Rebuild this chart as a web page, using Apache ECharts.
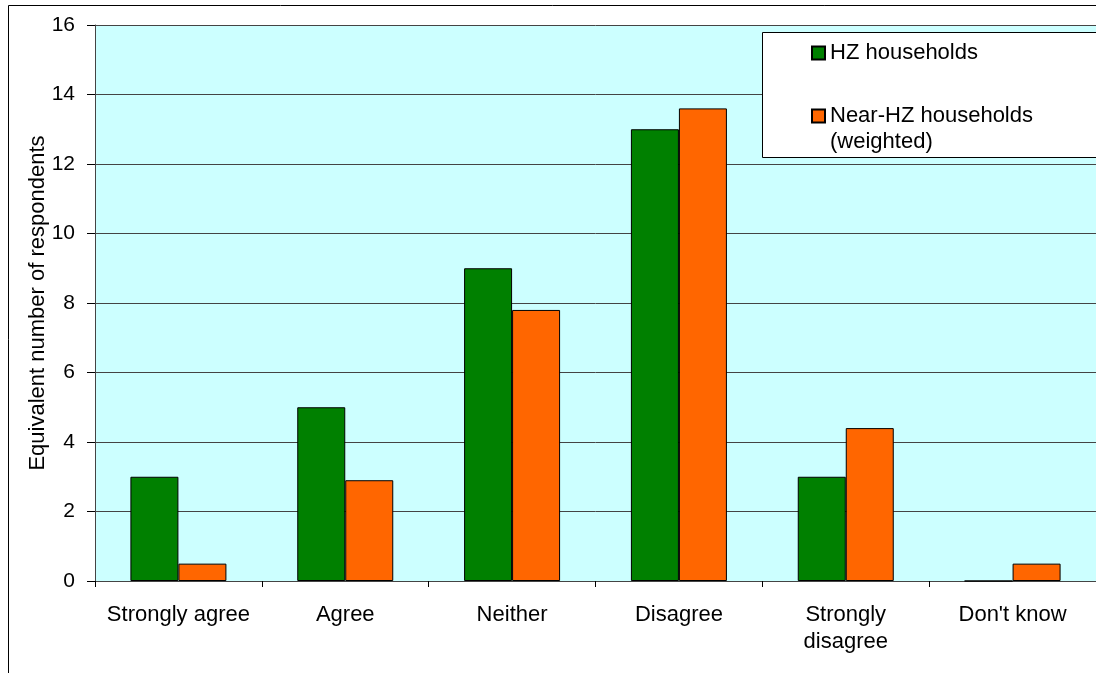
<!DOCTYPE html>
<html><head><meta charset="utf-8">
<script src="https://cdn.jsdelivr.net/npm/echarts@6/dist/echarts.min.js"></script>
<style>html,body{margin:0;padding:0;background:#fff}#c{width:1096px;height:673px}</style>
</head><body><div id="c"></div>
<script>
var categories = ["Strongly agree", "Agree", "Neither", "Disagree", "Strongly\ndisagree", "Don't know"];
var hzValues = [3, 5, 9, 13, 3, 0];
var nearHzValues = [0.5, 2.9, 7.8, 13.6, 4.4, 0.5];
var seriesNames = ["HZ households", "Near-HZ households\n(weighted)"];
var yTitle = "Equivalent number of respondents";

var chart = echarts.init(document.getElementById('c'), null, {renderer: 'canvas'});
var font = "'Liberation Sans', Arial, sans-serif";
chart.setOption({
  animation: false,
  textStyle: {fontFamily: font},
  graphic: [
    {type: 'rect', z: -10, shape: {x: 8.5, y: 5.5, width: 1200, height: 800}, style: {fill: '#fff', stroke: '#000', lineWidth: 1}},
    {type: 'rect', z: 50, shape: {x: 762.5, y: 32.5, width: 400, height: 125}, style: {fill: '#fff', stroke: '#000', lineWidth: 1}}
  ],
  legend: {
    orient: 'vertical', left: 806, top: 35, z: 60,
    itemWidth: 13, itemHeight: 13, itemGap: 11,
    icon: 'rect',
    formatter: function (name) { return name === seriesNames[1] ? '\n' + name : name; },
    textStyle: {fontSize: 22, color: '#000', fontFamily: font, lineHeight: 26},
    data: seriesNames
  },
  grid: {left: 95, top: 25, width: 1008, height: 556, containLabel: false, show: true, backgroundColor: '#CCFFFF', borderWidth: 0},
  xAxis: {
    type: 'category', data: categories,
    axisLine: {lineStyle: {color: '#444', width: 1}},
    axisTick: {show: true, interval: 0, length: 6, lineStyle: {color: '#000'}},
    axisLabel: {interval: 0, fontSize: 22, color: '#000', margin: 20, lineHeight: 27, fontFamily: font}
  },
  yAxis: {
    type: 'value', min: 0, max: 16, interval: 2,
    name: yTitle, nameLocation: 'middle', nameGap: 46, nameRotate: 90, nameMoveOverlap: false,
    nameTextStyle: {fontSize: 22, color: '#000', fontFamily: font},
    axisLine: {show: true, lineStyle: {color: '#444'}},
    axisTick: {show: true, length: 8, lineStyle: {color: '#000'}},
    axisLabel: {fontSize: 21, color: '#000', margin: 20, fontFamily: font},
    splitLine: {lineStyle: {color: '#444', width: 1}}
  },
  series: [
    {name: seriesNames[0], type: 'bar', data: hzValues, barWidth: 48, barGap: '0%',
     itemStyle: {color: '#008000', borderColor: '#000', borderWidth: 1}},
    {name: seriesNames[1], type: 'bar', data: nearHzValues, barWidth: 48,
     itemStyle: {color: '#FF6600', borderColor: '#000', borderWidth: 1}}
  ]
});
</script></body></html>
